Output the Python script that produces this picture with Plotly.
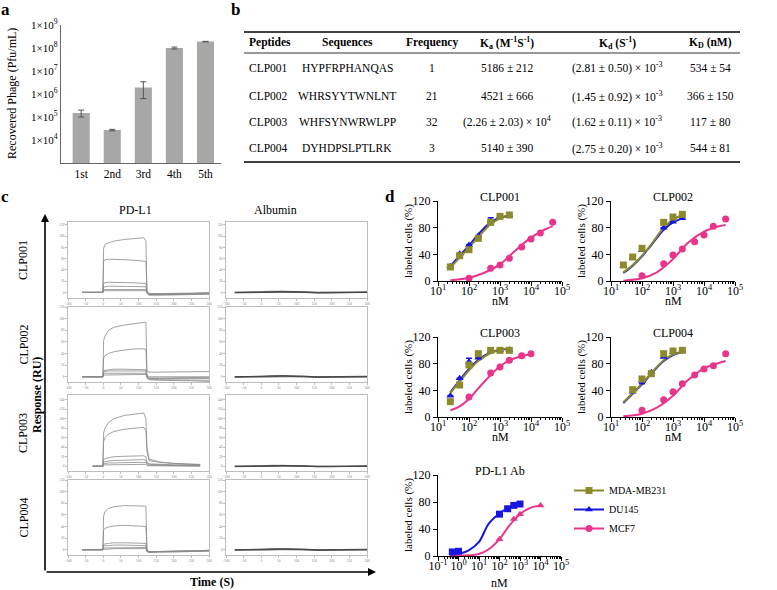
import plotly.graph_objects as go

W, H = 777, 590
FONT = "Liberation Serif, Times New Roman, Times, DejaVu Serif, serif"

# ---------------- data: panel a ----------------
rounds = ["1st", "2nd", "3rd", "4th", "5th"]
phage = [1.5e5, 2.7e4, 1.9e6, 1.0e8, 1.9e8]
phage_err_up = [5e4, 2e3, 1.5e6, 1e7, 5e6]
phage_err_down = [5e4, 2e3, 1.27e6, 1e7, 5e6]
phage_ticks = [1e4, 1e5, 1e6, 1e7, 1e8, 1e9]
phage_ticktext = ["1×10<sup>%d</sup>" % e for e in range(4, 10)]

# ---------------- data: panel b (table) ----------------
tbl_headers = ["Peptides", "Sequences", "Frequency",
               "K<sub>a</sub> (M<sup>-1</sup>S<sup>-1</sup>)",
               "K<sub>d</sub> (S<sup>-1</sup>)", "K<sub>D</sub> (nM)"]
tbl_peptides = ["CLP001", "CLP002", "CLP003", "CLP004"]
tbl_sequences = ["HYPFRPHANQAS", "WHRSYYTWNLNT", "WHFSYNWRWLPP", "DYHDPSLPTLRK"]
tbl_frequency = ["1", "21", "32", "3"]
tbl_ka = ["5186 ± 212", "4521 ± 666", "(2.26 ± 2.03) × 10<sup>4</sup>", "5140 ± 390"]
tbl_kd = ["(2.81 ± 0.50) × 10<sup>-3</sup>", "(1.45 ± 0.92) × 10<sup>-3</sup>",
          "(1.62 ± 0.11) × 10<sup>-3</sup>", "(2.75 ± 0.20) × 10<sup>-3</sup>"]
tbl_KD = ["534 ± 54", "366 ± 150", "117 ± 80", "544 ± 81"]

# ---------------- data: panel c (SPR sensorgrams) ----------------
spr_time = [-60, -1, 1, 5, 15, 30, 60, 90, 115, 121, 124, 130, 160, 200, 250, 300]
spr_time_clp003 = [-30, -1, 1, 5, 15, 30, 60, 90, 115, 121, 124, 130, 160, 200, 250, 275]
clp001_pdl1 = [
    [0, 0, 78, 85, 88, 91, 94, 96, 97, 92, 2, -3, -3, -2, -2, -1],
    [0, 0, 56, 58, 59, 59, 58, 57, 56, 55, 1, -2, -2, -2, -1, -1],
    [0, 0, 16, 17, 18, 18, 17, 17, 16, 16, 0, -3, -3, -2, -2, -1],
    [0, 0, 9, 10, 11, 11, 11, 10, 10, 10, 0, -4, -4, -3, -3, -2],
    [0, 0, 5, 5, 6, 6, 6, 6, 5, 5, -1, -4, -4, -4, -3, -3],
    [0, 0, 2, 3, 3, 3, 3, 3, 3, 3, -2, -5, -5, -4, -4, -3],
]
clp002_pdl1 = [
    [0, 0, 62, 70, 80, 85, 89, 92, 94, 94, 10, 8, 8, 8, 9, 9],
    [0, 0, 32, 36, 40, 43, 46, 48, 48, 47, 3, 0, 0, 0, 0, 0],
    [0, 0, 10, 11, 12, 13, 13, 13, 12, 12, 1, -2, -2, -2, -1, -1],
    [0, 0, 8, 9, 10, 10, 10, 10, 10, 10, 0, -3, -3, -3, -3, -3],
    [0, 0, 5, 6, 6, 6, 7, 7, 6, 6, -1, -4, -5, -5, -6, -6],
    [0, 0, 3, 3, 4, 4, 4, 4, 4, 4, -2, -5, -6, -6, -7, -8],
]
clp003_pdl1 = [
    [0, 0, 70, 80, 92, 100, 107, 110, 112, 100, 40, 15, 9, 6, 5, 4],
    [0, 0, 52, 60, 68, 73, 78, 81, 82, 75, 30, 12, 8, 6, 4, 3],
    [0, 0, 14, 16, 18, 20, 21, 22, 22, 20, 9, 5, 4, 3, 3, 2],
    [0, 0, 9, 10, 11, 12, 13, 14, 14, 13, 6, 4, 3, 2, 2, 2],
    [0, 0, 5, 6, 7, 7, 8, 8, 8, 8, 4, 2, 2, 2, 1, 1],
    [0, 0, 2, 3, 3, 3, 4, 4, 4, 4, 1, 1, 1, 1, 1, 0],
]
clp004_pdl1 = [
    [0, 0, 58, 66, 71, 74, 76, 76, 76, 75, 0, -3, -3, -2, -2, -1],
    [0, 0, 33, 37, 39, 41, 42, 41, 40, 40, -1, -3, -3, -2, -2, -1],
    [0, 0, 9, 10, 11, 12, 12, 12, 11, 11, -1, -3, -3, -2, -2, -1],
    [0, 0, 6, 7, 7, 8, 8, 7, 7, 7, -2, -4, -3, -3, -2, -2],
    [0, 0, 3, 3, 4, 4, 4, 4, 4, 4, -3, -4, -4, -3, -3, -2],
    [0, 0, 1, 1, 1, 2, 2, 2, 2, 2, -3, -5, -4, -4, -3, -2],
]
alb_time = [-75, -40, 0, 30, 60, 90, 120, 160, 200, 250, 300]
alb_curves = [
    [0, 0, 1, 2, 2, 2, 1, 0, 0, 0, 0],
    [0, 0, 0, 1, 1, 1, 0, -1, -1, 0, 0],
    [0, 0, 1, 1, 2, 1, 1, 0, 0, 1, 1],
    [-1, -1, 0, 0, 1, 0, 0, -1, -1, -1, 0],
]
spr_rows = ["CLP001", "CLP002", "CLP003", "CLP004"]

# ---------------- data: panel d (dose response) ----------------
conc = [25, 50, 100, 200, 500, 1000, 2000]
conc_mcf7 = [100, 500, 1000, 2000, 5000, 10000, 20000, 50000]
fit_x = [25, 50, 100, 200, 500, 1000, 2000]
fit_mcf7_x = [25, 100, 300, 1000, 3000, 10000, 30000, 50000]
fit_mcf7_x3 = [25, 50, 100, 200, 500, 1000, 2000, 5000, 10000]

dr = {
    "CLP001": dict(
        mda=[21, 38, 47, 64, 88, 97, 99], du=[22, 41, 54, 68, 90, 97, 99],
        du_err=[0, 0, 0, 0, 5, 0, 0],
        mcf=[4, 19, 24, 34, 51, 63, 72, 88],
        fit_mda=[20, 35, 50, 66, 85, 94, 99], fit_du=[22, 38, 53, 70, 88, 95, 98],
        fit_mcf=[1, 5, 12, 25, 45, 65, 78, 82], mcf_fx=fit_mcf7_x),
    "CLP002": dict(
        mda=[24, 36, 49, None, 88, 96, 100], du=[22, 34, 46, None, 80, 89, 94],
        du_err=[0, 0, 0, 0, 0, 0, 0],
        mcf=[8, 26, 39, 48, 59, 69, 82, 93],
        fit_mda=[13, 24, 38, 55, 80, 92, 99], fit_du=[12, 23, 37, 54, 77, 88, 94],
        fit_mcf=[0.5, 4, 13, 33, 57, 74, 82, 84], mcf_fx=fit_mcf7_x),
    "CLP003": dict(
        mda=[23, 48, 78, 95, 100, 100, 100], du=[32, 58, 83, 89, 99, 100, 101],
        du_err=[0, 0, 5, 0, 0, 0, 0],
        mcf=[30, 66, 75, 85, 92, 95, None, None],
        fit_mda=[36, 53, 70, 84, 96, 101, 103], fit_du=[37, 55, 72, 86, 97, 101, 102],
        fit_mcf=[10, 16, 27, 43, 63, 76, 85, 91, 94], mcf_fx=fit_mcf7_x3),
    "CLP004": dict(
        mda=[None, 41, 57, 65, 95, 99, 100], du=[None, 38, 54, 67, 90, 97, 99],
        du_err=[0, 0, 4, 0, 0, 0, 0],
        mcf=[10, 26, 38, 50, 63, 72, 77, 95],
        fit_mda=[22, 36, 50, 66, 85, 94, 98], fit_du=[21, 35, 49, 65, 84, 93, 97],
        fit_mcf=[1, 5, 14, 32, 55, 73, 81, 84], mcf_fx=fit_mcf7_x),
}
ab_conc_du = [0.5, 1, 100, 250, 500, 1000]
ab_du = [6, 7, 62, 70, 75, 77]
ab_conc_mcf = [0.5, 1, 100, 500, 1000, 10000]
ab_mcf = [0, 1, 25, 55, 62, 75]
ab_fit_du_x = [0.5, 1, 3, 10, 30, 100, 300, 1000]
ab_fit_du = [1.5, 3, 8, 21, 48, 63, 72, 76]
ab_fit_mcf_x = [0.5, 3, 10, 30, 100, 300, 1000, 3000, 10000]
ab_fit_mcf = [0, 1, 3, 10, 25, 45, 62, 71, 75]

COL_MDA = "#8C8A2C"
COL_DU = "#1616E0"
COL_MCF = "#E8358B"

# ---------------- helpers ----------------
def xd(a, b):
    return [a / W, b / W]

def yd(top, bottom):
    return [1 - bottom / H, 1 - top / H]

def px(x):
    return x / W

def py(y):
    return 1 - y / H

fig = go.Figure()
layout = dict(template="none", width=W, height=H, margin=dict(l=0, r=0, t=0, b=0, pad=0),
              paper_bgcolor="white", plot_bgcolor="rgba(0,0,0,0)",
              font=dict(family=FONT, color="black"))
ann = []
shapes = []

def text(x, y, t, size=11, bold=False, angle=0, xanchor="center", color="black"):
    if bold:
        t = "<b>%s</b>" % t
    ann.append(dict(x=px(x), y=py(y), xref="paper", yref="paper", text=t,
                    showarrow=False, font=dict(size=size, family=FONT, color=color),
                    textangle=angle, xanchor=xanchor, yanchor="middle"))

# ---------------- panel a ----------------
fig.add_trace(go.Bar(x=rounds, y=phage, marker=dict(color="#A9A6A6", line_width=0), width=0.55,
                     error_y=dict(type="data", array=phage_err_up, arrayminus=phage_err_down,
                                  color="#555", thickness=1, width=3),
                     xaxis="x", yaxis="y", showlegend=False))
layout["xaxis"] = dict(domain=xd(61, 221), range=[-0.65, 4.5], anchor="y", showline=True,
                       linecolor="#666", linewidth=1.3, ticks="", showgrid=False, automargin=False,
                       tickfont=dict(size=11.5, family=FONT))
layout["yaxis"] = dict(domain=yd(25, 163), type="log", range=[3, 9], anchor="x", showline=True,
                       linecolor="#666", linewidth=1.3, ticks="", showgrid=False, zeroline=False,
                       automargin=False,
                       tickvals=phage_ticks, ticktext=phage_ticktext, tickfont=dict(size=11, family=FONT))
text(5, 10, "a", size=17, bold=True)
text(12, 94, "Recovered Phage (Pfu/mL)", size=12, angle=-90)

# ---------------- panel b ----------------
text(235, 10, "b", size=17, bold=True)
col_x = [247, 347, 432, 507, 617, 710]
head_y = 43
row_y = [68, 96, 122, 148]
for i, h in enumerate(tbl_headers):
    text(col_x[i], head_y, h, size=11.5, bold=True, xanchor="left" if i == 0 else "center")
cols = [tbl_peptides, tbl_sequences, tbl_frequency, tbl_ka, tbl_kd, tbl_KD]
for i, col in enumerate(cols):
    for j, v in enumerate(col):
        text(col_x[i], row_y[j], v, size=11.5, xanchor="left" if i == 0 else "center")
for yy, lw in [(32, 1.6), (53, 0.8), (162, 1.6)]:
    shapes.append(dict(type="line", xref="paper", yref="paper", x0=px(244), x1=px(740),
                       y0=py(yy), y1=py(yy), line=dict(color="black", width=lw)))

# ---------------- panel c ----------------
text(5, 197, "c", size=17, bold=True)
text(135, 210, "PD-L1", size=12)
text(275, 210, "Albumin", size=12)
row_px = [(222, 298), (307, 382), (395, 471), (480, 555)]
row_yrange = [[-10, 125], [-9, 120], [-10, 150], [-9, 120]]
pdl1_sets = [clp001_pdl1, clp002_pdl1, clp003_pdl1, clp004_pdl1]
ax_i = 2
for r in range(4):
    top, bot = row_px[r]
    for c, (xa, xb) in enumerate([(68, 209), (226, 367)]):
        xn, yn = "x%d" % ax_i, "y%d" % ax_i
        common = dict(showline=True, mirror=True, linecolor="#bdbdbd", linewidth=0.8,
                      ticks="outside", ticklen=2, tickcolor="#bdbdbd", showgrid=False,
                      zeroline=False, automargin=False, tickfont=dict(size=3.5, color="#888"))
        layout["xaxis%d" % ax_i] = dict(domain=xd(xa, xb), range=[-100, 300], dtick=50, tick0=0,
                                        anchor=yn, **common)
        layout["yaxis%d" % ax_i] = dict(domain=yd(top, bot), range=row_yrange[r], dtick=20, tick0=0,
                                        anchor=xn, **common)
        if c == 0:
            tt = spr_time_clp003 if r == 2 else spr_time
            for cv in pdl1_sets[r]:
                fig.add_trace(go.Scatter(x=tt, y=cv, mode="lines", line=dict(color="#8a8a8a", width=0.8),
                                         xaxis=xn, yaxis=yn, showlegend=False, hoverinfo="skip"))
        else:
            for cv in alb_curves:
                fig.add_trace(go.Scatter(x=alb_time, y=cv, mode="lines", line=dict(color="#444", width=0.8),
                                         xaxis=xn, yaxis=yn, showlegend=False, hoverinfo="skip"))
        ax_i += 1
    text(23, (top + bot) / 2, spr_rows[r], size=12, angle=-90)

ann.append(dict(x=px(45), y=py(214), xref="paper", yref="paper", text="", showarrow=True,
                ax=0, ay=358, arrowhead=2, arrowsize=1, arrowwidth=1.6, arrowcolor="black"))
ann.append(dict(x=px(376), y=py(572), xref="paper", yref="paper", text="", showarrow=True,
                ax=-331, ay=0, arrowhead=2, arrowsize=1, arrowwidth=1.6, arrowcolor="black"))
text(37, 395, "Response (RU)", size=12, bold=True, angle=-90)
text(212, 582, "Time (S)", size=12, bold=True)

# ---------------- panel d ----------------
text(390, 197, "d", size=17, bold=True)

def minor_vals(lo, hi):
    return [m * 10 ** e for e in range(lo, hi) for m in range(2, 10)]

def dr_axes(i, xa, xb, top, bot, xlo, xhi):
    xn, yn = "x%d" % i, "y%d" % i
    base = dict(showline=True, linecolor="black", linewidth=1, ticks="outside", ticklen=4,
                tickwidth=1, tickcolor="black", showgrid=False, zeroline=False, automargin=False,
                tickfont=dict(size=12, family=FONT))
    tv = [10 ** e for e in range(xlo, xhi + 1)]
    tt = ["10<sup>%d</sup>" % e for e in range(xlo, xhi + 1)]
    layout["xaxis%d" % i] = dict(domain=xd(xa, xb), type="log", range=[xlo, xhi], anchor=yn,
                                 tickvals=tv, ticktext=tt, ticklabelstandoff=-5,
                                 minor=dict(tickmode="array", tickvals=minor_vals(xlo, xhi),
                                            ticks="outside", ticklen=2, tickcolor="black", tickwidth=0.8),
                                 **base)
    layout["yaxis%d" % i] = dict(domain=yd(top, bot), range=[0, 120], tickvals=[0, 40, 80, 120],
                                 anchor=xn, **base)
    return xn, yn

dr_layout = [("CLP001", 438, 562, 201, 281), ("CLP002", 611, 735, 201, 281),
             ("CLP003", 438, 562, 337, 417), ("CLP004", 611, 735, 337, 417)]
for name, xa, xb, top, bot in dr_layout:
    xn, yn = dr_axes(ax_i, xa, xb, top, bot, 1, 5)
    d = dr[name]
    kw = dict(xaxis=xn, yaxis=yn, showlegend=False, cliponaxis=False, hoverinfo="skip")
    fig.add_trace(go.Scatter(x=fit_x, y=d["fit_du"], mode="lines", line=dict(color=COL_DU, width=2, shape="spline"), **kw))
    fig.add_trace(go.Scatter(x=fit_x, y=d["fit_mda"], mode="lines", line=dict(color=COL_MDA, width=2, shape="spline"), **kw))
    fig.add_trace(go.Scatter(x=d["mcf_fx"], y=d["fit_mcf"], mode="lines", line=dict(color=COL_MCF, width=2, shape="spline"), **kw))
    fig.add_trace(go.Scatter(x=conc, y=d["du"], mode="markers",
                             marker=dict(symbol="triangle-up", size=7, color=COL_DU),
                             error_y=dict(type="data", array=d["du_err"], color=COL_DU, thickness=1.5, width=3), **kw))
    fig.add_trace(go.Scatter(x=conc, y=d["mda"], mode="markers",
                             marker=dict(symbol="square", size=7, color=COL_MDA), **kw))
    fig.add_trace(go.Scatter(x=conc_mcf7, y=d["mcf"], mode="markers",
                             marker=dict(symbol="circle", size=7, color=COL_MCF), **kw))
    cx = (xa + xb) / 2
    text(cx, top - 4, name, size=12)
    text(cx, bot + 20, "nM", size=12)
    text(xa - 30, (top + bot) / 2, "labeled cells (%)", size=11, angle=-90)
    ax_i += 1

# PD-L1 Ab
xn, yn = dr_axes(ax_i, 438, 561, 475, 556, -1, 5)
kw = dict(xaxis=xn, yaxis=yn, showlegend=False, cliponaxis=False, hoverinfo="skip")
fig.add_trace(go.Scatter(x=ab_fit_du_x, y=ab_fit_du, mode="lines", line=dict(color=COL_DU, width=2, shape="spline"), **kw))
fig.add_trace(go.Scatter(x=ab_fit_mcf_x, y=ab_fit_mcf, mode="lines", line=dict(color=COL_MCF, width=2, shape="spline"), **kw))
fig.add_trace(go.Scatter(x=ab_conc_mcf, y=ab_mcf, mode="markers", marker=dict(symbol="triangle-up", size=7, color=COL_MCF), **kw))
fig.add_trace(go.Scatter(x=ab_conc_du, y=ab_du, mode="markers", marker=dict(symbol="square", size=7, color=COL_DU), **kw))
text(499.5, 471, "PD-L1 Ab", size=12)
text(499.5, 583, "nM", size=12)
text(408, 515, "labeled cells (%)", size=11, angle=-90)

# legend entries
for k, (nm, col, sym) in enumerate([("MDA-MB231", COL_MDA, "square"), ("DU145", COL_DU, "triangle-up"), ("MCF7", COL_MCF, "circle")]):
    fig.add_trace(go.Scatter(x=[None], y=[None], mode="lines+markers", name=nm, legendgroup="g%d" % k,
                             line=dict(color=col, width=2), marker=dict(symbol=sym, size=7, color=col),
                             xaxis=xn, yaxis=yn, showlegend=True))
layout["legend"] = dict(x=px(569), y=py(476), xanchor="left", yanchor="top",
                        font=dict(size=10, family=FONT), bgcolor="rgba(0,0,0,0)",
                        traceorder="normal", itemwidth=30, tracegroupgap=1)
layout["showlegend"] = True
layout["annotations"] = ann
layout["shapes"] = shapes
fig.update_layout(**layout)
fig.write_html("out.html", config={"displayModeBar": False},
               post_script="document.body.style.margin='0px';")
